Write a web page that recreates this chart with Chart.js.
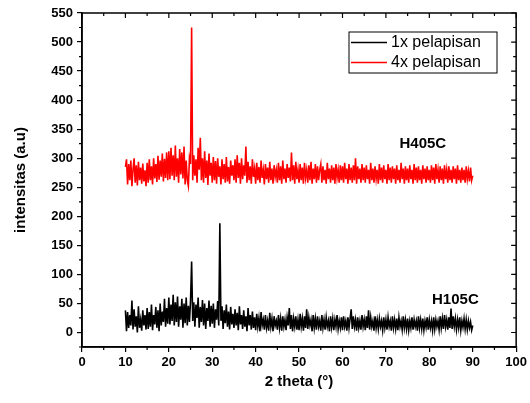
<!DOCTYPE html>
<html>
<head>
<meta charset="utf-8">
<script src="https://cdn.jsdelivr.net/npm/chart.js@4.4.1/dist/chart.umd.min.js"></script>
<style>
  html, body { margin: 0; padding: 0; background: #fff; }
  canvas { display: block; }
</style>
</head>
<body>
<canvas id="xrd" width="530" height="403"></canvas>
<script>
// 2 theta sampling grid (degrees)
const thetaStart = 10;
const thetaStep = 0.25;

// H405C, 4x pelapisan (10..90 deg)
const red4x = [
  285,298,255,290,262,296,252,280,300,258,288,253,294,262,284,256,291,260,279,252,
  292,258,298,262,286,255,300,265,290,259,304,263,296,268,308,260,299,266,310,262,
  312,264,318,270,305,262,322,268,300,258,316,272,310,265,320,255,296,262,252,300,
  290,525,262,305,270,298,258,318,280,335,262,300,258,312,266,296,254,308,270,292,
  258,302,262,295,256,300,268,286,255,298,264,290,258,302,260,285,256,296,270,288,
  262,298,258,305,266,292,256,300,264,288,270,320,258,294,262,286,256,298,268,282,
  256,292,262,285,258,296,266,280,255,290,264,284,258,294,262,282,256,288,268,280,
  258,292,262,286,256,296,264,282,258,290,266,284,260,310,262,288,256,294,264,280,
  258,290,262,284,256,292,266,280,258,288,262,294,256,282,264,290,258,286,262,280,
  290,258,286,262,280,256,292,264,282,258,288,262,284,256,290,266,280,258,288,262,
  286,258,292,264,282,256,290,262,284,258,288,262,300,256,286,264,282,258,290,262,
  284,258,288,264,280,256,292,262,282,258,286,264,280,256,290,262,284,258,288,264,
  280,256,290,262,284,258,286,264,282,256,288,262,280,258,292,264,282,256,286,262,
  282,258,288,264,280,256,290,262,284,258,286,262,280,256,288,264,282,258,286,262,
  280,258,288,262,284,256,290,264,280,258,286,262,282,256,288,264,280,258,286,262,
  280,258,286,264,282,256,288,262,280,258,284,262,280,258,286,264,278,260,284,262,
  270
];

// H105C, 1x pelapisan
const black1x = [
  38,2,35,8,30,12,55,5,40,10,28,0,45,8,22,3,38,12,30,5,
  42,6,35,10,48,4,30,14,44,8,38,2,50,12,36,18,58,10,42,15,
  60,14,48,20,65,12,52,18,62,10,45,22,58,8,50,16,60,12,46,18,
  55,122,20,52,10,48,25,60,8,44,18,56,12,50,6,42,20,55,10,46,
  15,50,8,40,22,54,12,188,20,45,6,38,16,48,10,36,5,44,14,32,
  8,40,12,34,4,45,14,30,6,38,10,28,2,42,12,30,5,36,8,26,
  4,32,10,25,2,35,12,22,5,30,8,20,3,34,10,24,2,28,12,20,
  5,30,8,24,3,28,10,22,4,26,12,42,6,30,2,24,10,28,5,22,
  4,32,10,24,3,28,8,40,6,26,12,22,2,30,8,24,5,28,10,20,
  3,30,8,22,5,26,10,20,2,28,9,24,4,22,10,30,6,20,8,26,
  4,28,10,20,3,26,8,24,40,6,28,10,22,3,26,8,20,5,30,10,
  22,4,28,8,38,5,26,10,20,3,28,8,22,6,24,10,20,4,26,8,
  22,5,26,10,20,3,28,8,22,6,24,4,26,10,20,5,28,8,22,6,
  24,4,20,8,26,5,22,10,20,3,28,8,22,6,24,4,20,9,26,5,
  22,8,20,4,26,6,22,10,20,5,28,8,24,6,30,10,22,5,26,8,
  41,6,28,10,24,5,22,8,26,4,20,9,24,6,22,5,20,8,18,4,
  12
];

const seriesNames = ["1x pelapisan", "4x pelapisan"];
const seriesColors = ["#000000", "#ff0000"];
const sampleNames = ["H105C", "H405C"];

const toPoints = arr => arr.map((v, i) => ({ x: thetaStart + i * thetaStep, y: v }));

const FONT = "'Liberation Sans', Arial, sans-serif";

// box, mirrored axes with inward ticks, minor ticks, legend and labels
const decorations = {
  id: 'decorations',
  afterDraw(chart) {
    const { ctx, chartArea: a, scales: { x, y } } = chart;
    ctx.save();
    ctx.strokeStyle = '#000';
    ctx.lineWidth = 1.5;
    ctx.strokeRect(a.left, a.top, a.right - a.left, a.bottom - a.top);

    ctx.lineWidth = 1.2;
    ctx.beginPath();
    for (let v = 0; v <= 100; v += 5) {
      const px = x.getPixelForValue(v);
      const major = v % 10 === 0;
      ctx.moveTo(px, a.top); ctx.lineTo(px, a.top + (major ? 5 : 3));
      if (!major) { ctx.moveTo(px, a.bottom); ctx.lineTo(px, a.bottom + 3); }
    }
    for (let v = -25; v <= 550; v += 25) {
      const py = y.getPixelForValue(v);
      const major = v % 50 === 0;
      ctx.moveTo(a.right, py); ctx.lineTo(a.right - (major ? 5 : 3), py);
      if (!major) { ctx.moveTo(a.left, py); ctx.lineTo(a.left - 3, py); }
    }
    ctx.stroke();

    // legend
    const lx = 349, ly = 32, lw = 148, lh = 41;
    ctx.lineWidth = 1;
    ctx.strokeRect(lx, ly, lw, lh);
    ctx.font = '16px ' + FONT;
    ctx.textBaseline = 'middle';
    ctx.fillStyle = '#000';
    seriesNames.forEach((name, i) => {
      const cy = ly + 10.5 + i * 20;
      ctx.strokeStyle = seriesColors[i];
      ctx.lineWidth = 1.5;
      ctx.beginPath();
      ctx.moveTo(lx + 2, cy); ctx.lineTo(lx + 38, cy);
      ctx.stroke();
      ctx.fillText(name, lx + 42, cy);
    });

    // sample labels
    ctx.font = 'bold 15px ' + FONT;
    ctx.textAlign = 'center';
    ctx.fillText(sampleNames[1], x.getPixelForValue(78.5), y.getPixelForValue(325));
    ctx.fillText(sampleNames[0], x.getPixelForValue(86), y.getPixelForValue(57));
    ctx.restore();
  }
};

new Chart(document.getElementById('xrd'), {
  type: 'line',
  data: {
    datasets: [
      { label: seriesNames[0], data: toPoints(black1x), borderColor: seriesColors[0], borderWidth: 1.6, pointRadius: 0, tension: 0 },
      { label: seriesNames[1], data: toPoints(red4x), borderColor: seriesColors[1], borderWidth: 1.6, pointRadius: 0, tension: 0 }
    ]
  },
  options: {
    responsive: false,
    animation: false,
    devicePixelRatio: 1,
    layout: { padding: { top: 13, right: 12, bottom: 0, left: 0 } },
    plugins: { legend: { display: false }, tooltip: { enabled: false } },
    scales: {
      x: {
        type: 'linear', min: 0, max: 100,
        afterFit: s => { s.height = 56; },
        ticks: { stepSize: 10, autoSkip: false, color: '#000', padding: 3, maxRotation: 0, font: { family: FONT, size: 13, weight: 'bold' } },
        grid: { drawOnChartArea: false, drawTicks: true, tickLength: 5, color: '#000', lineWidth: 1.2 },
        border: { color: '#000', width: 1.5 },
        title: { display: true, text: '2 theta (°)', color: '#000', padding: { top: 0, bottom: 12 }, font: { family: FONT, size: 15, weight: 'bold' } }
      },
      y: {
        type: 'linear', min: -25, max: 550,
        afterFit: s => { s.width = 82; },
        afterBuildTicks: s => { s.ticks = s.ticks.filter(t => t.value >= 0); },
        ticks: { stepSize: 50, includeBounds: false, autoSkip: false, color: '#000', padding: 4, font: { family: FONT, size: 13, weight: 'bold' } },
        grid: { drawOnChartArea: false, drawTicks: true, tickLength: 5, color: '#000', lineWidth: 1.2 },
        border: { color: '#000', width: 1.5 },
        title: { display: true, text: 'intensitas (a.u)', color: '#000', padding: { top: 12, bottom: 0 }, font: { family: FONT, size: 15, weight: 'bold' } }
      }
    }
  },
  plugins: [decorations]
});
</script>
</body>
</html>
